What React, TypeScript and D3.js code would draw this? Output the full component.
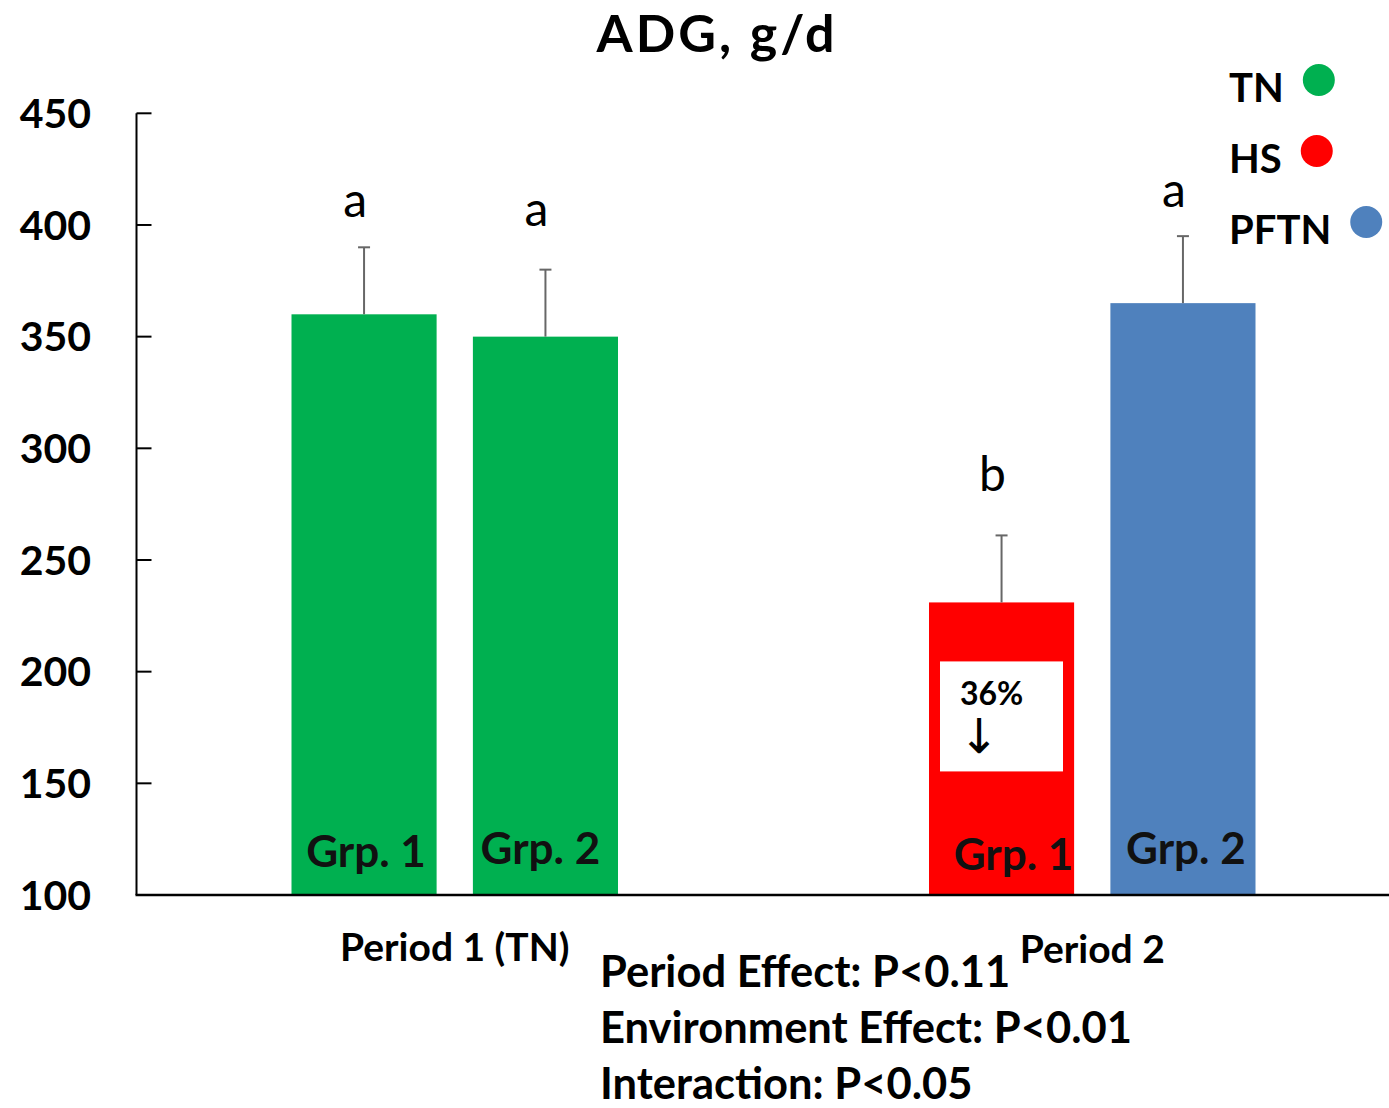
import React, { useEffect, useRef } from "react";
import * as d3 from "d3";

// ---- data ----
const chartTitle = "ADG, g/d";
const periods = ["Period 1 (TN)", "Period 2"];
const groups = ["Grp. 1", "Grp. 2"];
const barPeriods = ["Period 1 (TN)", "Period 1 (TN)", "Period 2", "Period 2"];
const barGroups = ["Grp. 1", "Grp. 2", "Grp. 1", "Grp. 2"];
const barTreatments = ["TN", "TN", "HS", "PFTN"];
const adgValues = [360, 350, 231, 365];
const adgErrors = [30, 30, 30, 30];
const sigLetters = ["a", "a", "b", "a"];
const yTicks = [100, 150, 200, 250, 300, 350, 400, 450];
const legendItems = ["TN", "HS", "PFTN"];
const statsLines = [
  "Period Effect: P<0.11",
  "Environment Effect: P<0.01",
  "Interaction: P<0.05",
];
const reductionText = "36%";

// ---- styling / layout ----
const W = 1389;
const H = 1108;
const colors: Record<string, string> = {
  TN: "#00B050",
  HS: "#FF0000",
  PFTN: "#4F81BD",
};
const FONT = "Lato, 'Open Sans', sans-serif";
const letterGaps = [30, 44, 44, 29];
const grpLabelNudge = [
  [2, 867],
  [-5, 864],
  [12, 870],
  [3, 864],
];

export default function App() {
  const ref = useRef<SVGSVGElement | null>(null);

  useEffect(() => {
    const svg = d3.select(ref.current);
    svg.selectAll("*").remove();

    const axisX = 136.5;
    const y = d3.scaleLinear().domain([100, 450]).range([895, 113.3]);
    const x0 = d3.scaleBand<string>().domain(periods).range([136, 1411]);
    const x1 = d3
      .scaleBand<string>()
      .domain(groups)
      .range([155.5, 482])
      .paddingInner(0.2);

    const barX = (i: number) => (x0(barPeriods[i]) as number) + (x1(barGroups[i]) as number);
    const bw = x1.bandwidth();

    // title
    svg
      .append("text")
      .attr("x", 717)
      .attr("y", 52)
      .attr("text-anchor", "middle")
      .attr("font-family", FONT)
      .attr("font-weight", 700)
      .attr("font-size", 52)
      .attr("letter-spacing", 3)
      .text(chartTitle);

    // bars
    const idx = d3.range(adgValues.length);
    svg
      .append("g")
      .selectAll("rect")
      .data(idx)
      .join("rect")
      .attr("x", (i) => barX(i))
      .attr("y", (i) => y(adgValues[i]))
      .attr("width", bw)
      .attr("height", (i) => y(100) - y(adgValues[i]))
      .attr("fill", (i) => colors[barTreatments[i]]);

    // error bars
    const eg = svg.append("g").attr("stroke", "#676767").attr("stroke-width", 2);
    idx.forEach((i) => {
      const cx = barX(i) + bw / 2;
      const top = y(adgValues[i] + adgErrors[i]);
      eg.append("line")
        .attr("x1", cx)
        .attr("x2", cx)
        .attr("y1", y(adgValues[i]))
        .attr("y2", top);
      eg.append("line")
        .attr("x1", cx - 6)
        .attr("x2", cx + 6)
        .attr("y1", top)
        .attr("y2", top);
    });

    // significance letters
    svg
      .append("g")
      .selectAll("text")
      .data(idx)
      .join("text")
      .attr("x", (i) => barX(i) + bw / 2 - 9)
      .attr("y", (i) => y(adgValues[i] + adgErrors[i]) - letterGaps[i])
      .attr("text-anchor", "middle")
      .attr("font-family", FONT)
      .attr("font-size", 48)
      .text((i) => sigLetters[i]);

    // reduction box on HS bar
    const hsI = barTreatments.indexOf("HS");
    const bx = barX(hsI) + 11;
    const by = y(adgValues[hsI]) + 59;
    svg
      .append("rect")
      .attr("x", bx)
      .attr("y", by)
      .attr("width", 123)
      .attr("height", 110)
      .attr("fill", "#fff");
    svg
      .append("text")
      .attr("x", bx + 20)
      .attr("y", by + 44)
      .attr("font-family", FONT)
      .attr("font-weight", 700)
      .attr("font-size", 32)
      .text(reductionText);
    svg
      .append("text")
      .attr("x", bx + 19)
      .attr("y", by + 92)
      .attr("font-family", "'DejaVu Sans', sans-serif")
      .attr("font-size", 48)
      .text("↓");

    // group labels inside bars
    svg
      .append("g")
      .selectAll("text")
      .data(idx)
      .join("text")
      .attr("x", (i) => barX(i) + bw / 2 + grpLabelNudge[i][0])
      .attr("y", (i) => grpLabelNudge[i][1])
      .attr("text-anchor", "middle")
      .attr("font-family", FONT)
      .attr("font-weight", 700)
      .attr("font-size", 44)
      .attr("fill", "#111")
      .text((i) => barGroups[i]);

    // y axis
    const ax = svg.append("g").attr("stroke", "#000").attr("stroke-width", 2);
    ax.append("line")
      .attr("x1", axisX)
      .attr("x2", axisX)
      .attr("y1", y(450))
      .attr("y2", y(100));
    yTicks.forEach((t) => {
      ax.append("line")
        .attr("x1", axisX)
        .attr("x2", axisX + 15)
        .attr("y1", y(t))
        .attr("y2", y(t));
    });
    svg
      .append("g")
      .selectAll("text")
      .data(yTicks)
      .join("text")
      .attr("x", 91)
      .attr("y", (t) => y(t))
      .attr("dy", "0.36em")
      .attr("text-anchor", "end")
      .attr("font-family", FONT)
      .attr("font-weight", 700)
      .attr("font-size", 41)
      .text((t) => String(t));

    // x axis baseline
    svg
      .append("line")
      .attr("x1", axisX - 1)
      .attr("x2", W)
      .attr("y1", y(100))
      .attr("y2", y(100))
      .attr("stroke", "#000")
      .attr("stroke-width", 2.5);

    // period labels
    svg
      .append("g")
      .selectAll("text")
      .data(periods)
      .join("text")
      .attr("x", (p) => (x0(p) as number) + x0.bandwidth() / 2)
      .attr("y", (p, i) => (i === 0 ? 961 : 963))
      .attr("text-anchor", "middle")
      .attr("font-family", FONT)
      .attr("font-weight", 700)
      .attr("font-size", 39)
      .text((p) => p);

    // stats
    svg
      .append("g")
      .selectAll("text")
      .data(statsLines)
      .join("text")
      .attr("x", 600)
      .attr("y", (d, i) => 987 + i * 56)
      .attr("font-family", FONT)
      .attr("font-weight", 700)
      .attr("font-size", 43.5)
      .text((d) => d);

    // legend
    const lg = svg.append("g");
    legendItems.forEach((name, i) => {
      const baseline = 101.5 + i * 71;
      const t = lg
        .append("text")
        .attr("x", 1229)
        .attr("y", baseline)
        .attr("font-family", FONT)
        .attr("font-weight", 700)
        .attr("font-size", 40)
        .text(name);
      const node = t.node() as SVGTextElement;
      const tw = node ? node.getComputedTextLength() : 50;
      lg.append("circle")
        .attr("cx", 1229 + tw + 19 + 16)
        .attr("cy", baseline - 21.5)
        .attr("r", 16)
        .attr("fill", colors[name]);
    });
  }, []);

  return (
    <svg
      ref={ref}
      width={W}
      height={H}
      style={{ position: "absolute", left: 0, top: 0, background: "#fff" }}
    />
  );
}
